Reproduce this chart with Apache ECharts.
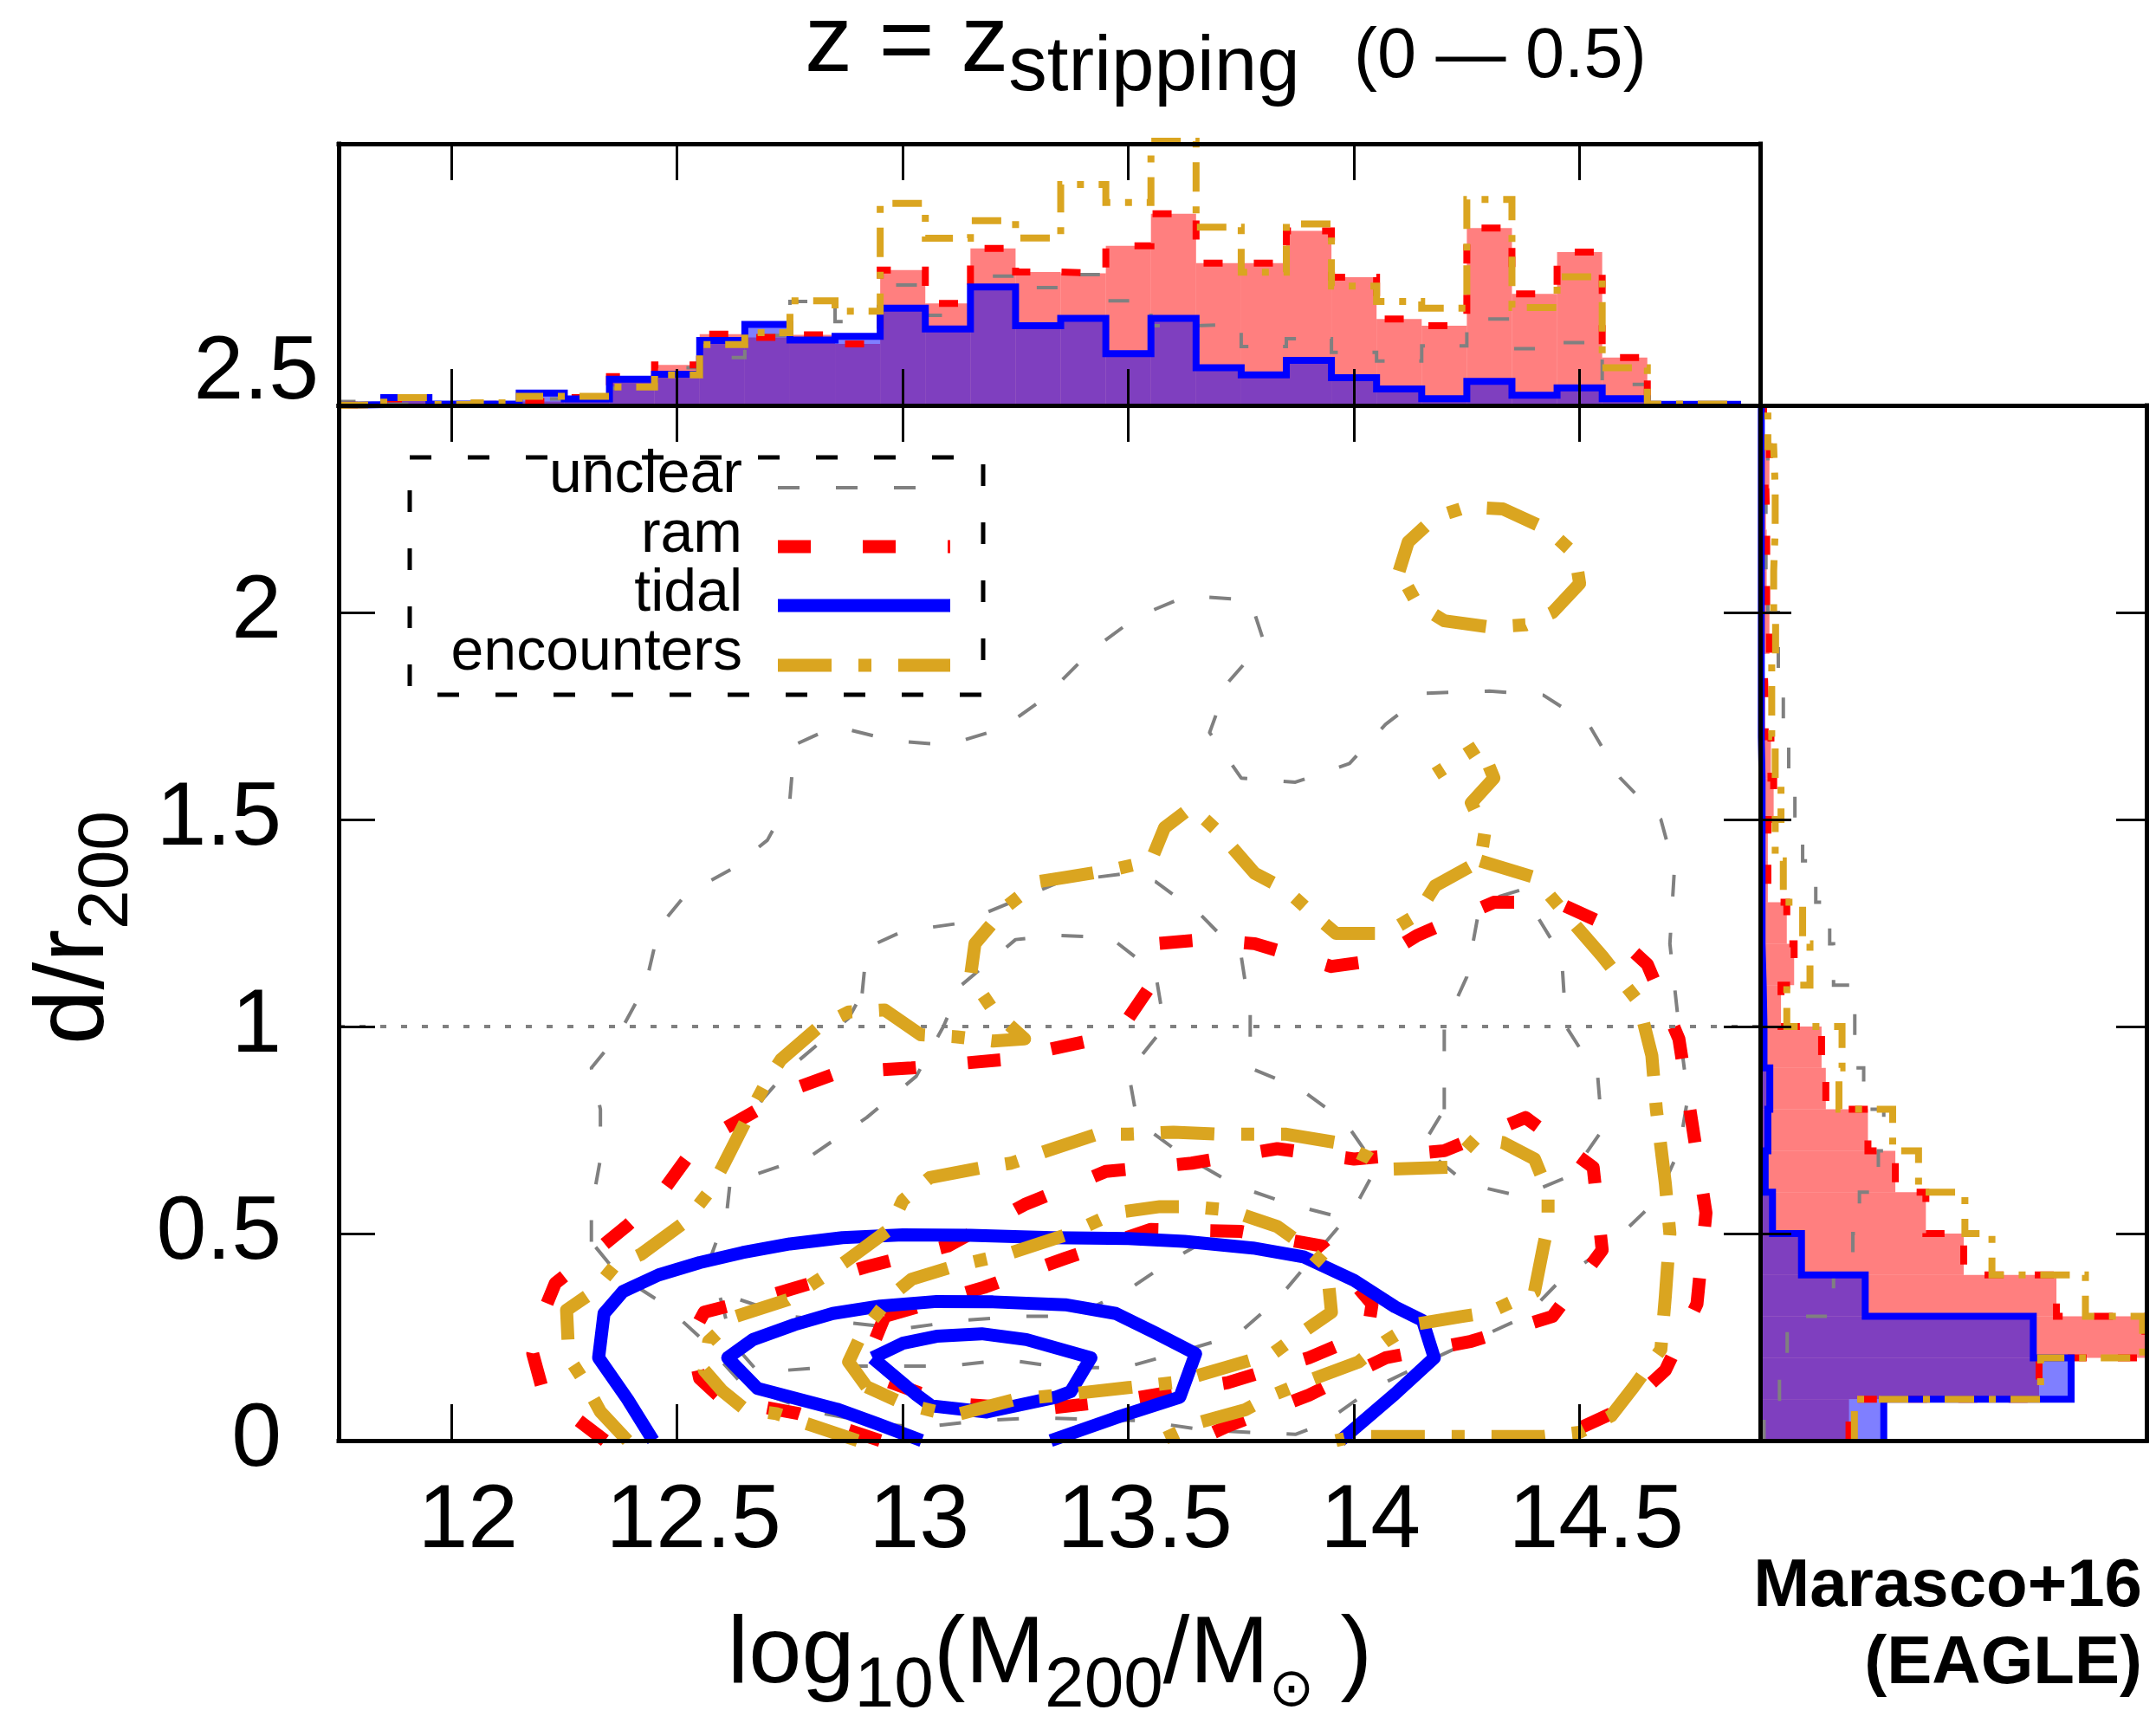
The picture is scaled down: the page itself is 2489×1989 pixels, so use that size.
<!DOCTYPE html>
<html>
<head>
<meta charset="utf-8">
<script src="https://cdn.jsdelivr.net/npm/echarts@6.0.0/dist/echarts.min.js"></script>
<style>
html,body{margin:0;padding:0;background:#ffffff;}
#chart{width:2489px;height:1989px;}
</style>
</head>
<body>
<div id="chart"></div>
<script>
// ================= DATA =================
const xTickValues = [12, 12.5, 13, 13.5, 14, 14.5];
const yLabelValues = [0, 0.5, 1, 1.5, 2, 2.5];
const yTickValues = [0.5, 1, 1.5, 2];
const binWidth = 0.1;

// top histogram (log10 M200 bins), heights in % of panel height
const topBinCenters = [11.8, 11.9, 12.0, 12.1, 12.2, 12.3, 12.4, 12.5, 12.6, 12.7, 12.8, 12.9, 13.0, 13.1, 13.2, 13.3, 13.4, 13.5, 13.6, 13.7, 13.8, 13.9, 14.0, 14.1, 14.2, 14.3, 14.4, 14.5, 14.6, 14.7, 14.8];
const topUnclear = [1.5, 0.5, 0.5, 1, 2.5, 3, 6.5, 14.4, 18.3, 26.7, 39.7, 32, 46, 34.4, 49.4, 45, 50, 40, 30.5, 31, 22.5, 25.5, 20.3, 17, 22.8, 33, 21.7, 24, 8, 1, 0.3];
const topRam     = [0.2, 2.5, 0.3, 0.5, 1.5, 3, 11, 15.5, 27.2, 26, 27, 23.5, 51.7, 39, 60, 51, 50.5, 61, 73.3, 54.4, 54.4, 66.7, 49, 33, 30.5, 67.8, 42.6, 58.6, 18.3, 0.3, 0.3];
const topTidal   = [0.3, 3, 0.5, 0.5, 4.7, 2.5, 10, 11.9, 24.8, 31, 25, 26.4, 37.2, 29.2, 45.3, 30.5, 33.3, 19.8, 33.3, 14.4, 11.7, 17.2, 10.6, 6.3, 2.6, 9.2, 3.9, 6.7, 2.6, 0.4, 0.4];
const topEnc     = [0.3, 3, 0.3, 1, 3.5, 3.5, 7, 11.7, 23.3, 27.8, 40, 36, 77.2, 63.9, 70.6, 64, 84.4, 77.6, 101, 68.1, 50.9, 69.4, 45.6, 39.7, 37.2, 78.7, 37.4, 49.2, 14.4, 0.5, 0.5];

// right histogram (d/r200 bins), lengths in % of panel width
const rightBinCenters = [0.05, 0.15, 0.25, 0.35, 0.45, 0.55, 0.65, 0.75, 0.85, 0.95, 1.05, 1.15, 1.25, 1.35, 1.45, 1.55, 1.65, 1.75, 1.85, 1.95, 2.05, 2.15, 2.25, 2.35, 2.45];
const rightUnclear = [1, 5, 7, 19, 24, 25.7, 30.6, 32, 26.8, 24.5, 24.5, 19, 18, 14.4, 11, 9, 7.4, 6, 4.7, 4.7, 2, 1.5, 1.5, 2, 1.3];
const rightRam     = [23, 72.2, 99.6, 76.7, 52.7, 42.9, 35, 27.9, 17, 15.9, 5.4, 8.8, 6.9, 2, 2, 3.5, 2.8, 1.3, 0.9, 2.4, 1.7, 1.7, 1.5, 2.4, 0.9];
const rightTidal   = [32, 80.5, 70.7, 27.2, 10.7, 3.2, 1.3, 2, 2.5, 1, 0.8, 0.5, 0.5, 0.5, 0.5, 0.5, 0.3, 0.3, 0.3, 0.3, 0.3, 0.3, 0.3, 0.3, 0.3];
const rightEnc     = [24.4, 72.6, 99, 84.2, 60, 53, 41, 34.3, 20.4, 21.2, 6.9, 12.9, 11, 6, 3.9, 5.4, 3.9, 3, 3, 4, 3.5, 3.9, 3.9, 3.5, 2];

// contours [log10 M200, d/r200]
const unclearC1 = [[12.31,0.48],[12.31,0.56],[12.33,0.68],[12.33,0.8],[12.31,0.9],[12.37,0.98],[12.43,1.1],[12.46,1.24],[12.52,1.32],[12.62,1.38],[12.7,1.45],[12.75,1.55],[12.76,1.68],[12.85,1.725],[12.98,1.69],[13.1,1.68],[13.22,1.72],[13.31,1.79],[13.42,1.91],[13.52,1.99],[13.63,2.04],[13.77,2.03],[13.8,1.93],[13.72,1.83],[13.68,1.71],[13.75,1.6],[13.87,1.59],[13.99,1.635],[14.07,1.73],[14.16,1.805],[14.3,1.81],[14.42,1.8],[14.52,1.73],[14.59,1.6],[14.68,1.5],[14.71,1.38],[14.7,1.2],[14.72,1.0],[14.74,0.83],[14.72,0.7],[14.67,0.58],[14.57,0.475],[14.46,0.39],[14.38,0.3],[14.2,0.21],[14.04,0.125],[13.93,0.04],[13.87,0.015],[13.67,0.025],[13.53,0.048],[13.3,0.055],[13.17,0.048],[13.04,0.032],[12.95,0.04],[12.8,0.07],[12.65,0.13],[12.55,0.25],[12.47,0.33],[12.37,0.4],[12.31,0.48]];
const unclearC2 = [[12.91,1.08],[12.92,1.19],[13.0,1.23],[13.13,1.25],[13.24,1.3],[13.35,1.35],[13.5,1.37],[13.56,1.35],[13.66,1.27],[13.75,1.17],[13.77,1.03],[13.77,0.9],[13.88,0.85],[13.98,0.77],[14.05,0.66],[14.0,0.56],[13.93,0.47],[13.83,0.34],[13.74,0.255],[13.57,0.2],[13.49,0.176],[13.36,0.176],[13.23,0.195],[13.1,0.18],[12.87,0.18],[12.68,0.165],[12.62,0.24],[12.6,0.33],[12.57,0.43],[12.61,0.55],[12.63,0.75],[12.75,0.9],[12.88,1.02],[12.91,1.08]];
const unclearC3 = [[14.2,0.8],[14.2,1.0],[14.25,1.12],[14.28,1.3],[14.37,1.33],[14.46,1.17],[14.47,1.0],[14.54,0.88],[14.55,0.75],[14.48,0.64],[14.37,0.59],[14.25,0.62],[14.15,0.71],[14.2,0.8]];
const unclearC4 = [[12.68,0.645],[12.8,0.69],[12.92,0.78],[13.03,0.88],[13.09,1.0],[13.13,1.1],[13.25,1.21],[13.35,1.22],[13.46,1.215],[13.56,1.13],[13.58,1.0],[13.5,0.89],[13.52,0.77],[13.62,0.69],[13.74,0.615],[13.86,0.57],[13.95,0.545]];
const unclearC5 = [[12.64,0.34],[12.75,0.3],[12.88,0.285],[13.0,0.27],[13.13,0.29],[13.26,0.3],[13.38,0.3],[13.5,0.365],[13.61,0.445],[13.7,0.5]];
const ramC1 = [[12.34,0],[12.28,0.05],[12.2,0.13],[12.18,0.21],[12.2,0.3],[12.23,0.38],[12.3,0.44],[12.39,0.52],[12.46,0.59],[12.52,0.68],[12.6,0.75],[12.68,0.8],[12.76,0.85],[12.86,0.89],[13.02,0.9],[13.22,0.92],[13.41,0.965],[13.5,1.02],[13.55,1.1],[13.56,1.2],[13.67,1.21],[13.78,1.2],[13.95,1.145],[14.05,1.16],[14.14,1.22],[14.31,1.3],[14.45,1.3],[14.55,1.25],[14.65,1.15],[14.72,0.97],[14.75,0.76],[14.78,0.55],[14.76,0.33],[14.69,0.17],[14.6,0.08],[14.5,0.03],[14.45,0]];
const ramC2 = [[12.95,0],[12.77,0.065],[12.6,0.1],[12.55,0.15],[12.53,0.25],[12.56,0.31],[12.72,0.355],[12.92,0.42],[13.1,0.47],[13.27,0.57],[13.45,0.65],[13.64,0.67],[13.83,0.705],[14.0,0.68],[14.2,0.7],[14.38,0.78],[14.53,0.66],[14.55,0.46],[14.44,0.3],[14.26,0.24],[14.07,0.2],[13.9,0.11],[13.72,0.035],[13.65,0]];
const ramC3 = [[12.96,0.3],[13.18,0.37],[13.36,0.44],[13.55,0.51],[13.75,0.505],[13.93,0.47],[14.04,0.33],[14.03,0.26],[13.9,0.2],[13.72,0.14],[13.5,0.1],[13.3,0.075],[13.1,0.09],[12.95,0.15],[12.93,0.22],[12.96,0.3]];
const tidalC1 = [[12.447,0],[12.39,0.1],[12.326,0.2],[12.338,0.307],[12.38,0.36],[12.459,0.4],[12.55,0.43],[12.645,0.454],[12.75,0.475],[12.866,0.49],[13.0,0.497],[13.15,0.496],[13.33,0.49],[13.5,0.488],[13.624,0.481],[13.776,0.465],[13.888,0.444],[14.0,0.387],[14.091,0.323],[14.152,0.29],[14.178,0.2],[14.091,0.113],[13.97,0]];
const tidalC2 = [[13.042,0],[12.945,0.04],[12.854,0.076],[12.678,0.126],[12.612,0.2],[12.668,0.244],[12.76,0.28],[12.845,0.307],[12.95,0.325],[13.075,0.336],[13.2,0.335],[13.36,0.328],[13.472,0.307],[13.56,0.26],[13.649,0.21],[13.614,0.105],[13.472,0.055],[13.328,0]];
const tidalC3 = [[12.933,0.2],[13.0,0.235],[13.075,0.252],[13.175,0.258],[13.274,0.244],[13.417,0.2],[13.372,0.118],[13.34,0.105],[13.186,0.069],[13.063,0.084],[13.03,0.111],[12.933,0.2]];
const encC1a = [[12.39,0],[12.33,0.07],[12.29,0.15],[12.26,0.2],[12.255,0.315],[12.315,0.36],[12.36,0.42],[12.42,0.45],[12.52,0.53],[12.57,0.6],[12.6,0.66],[12.656,0.78],[12.7,0.87],[12.73,0.92],[12.815,1.0],[12.88,1.035],[12.96,1.04],[13.04,0.98],[13.12,0.975],[13.2,0.965],[13.27,0.97],[13.2,1.04],[13.15,1.12],[13.16,1.2],[13.23,1.29],[13.3,1.35],[13.36,1.36],[13.47,1.38],[13.55,1.4],[13.58,1.48],[13.64,1.53],[13.7,1.47],[13.78,1.37],[13.85,1.33],[13.9,1.28],[13.96,1.225],[14.07,1.225],[14.14,1.27],[14.18,1.34],[14.28,1.4],[14.29,1.47],[14.26,1.54],[14.31,1.6],[14.28,1.68],[14.18,1.61]];
const encC1b = [[14.28,1.4],[14.4,1.36],[14.47,1.27],[14.55,1.17],[14.63,1.06],[14.66,0.93],[14.67,0.8],[14.69,0.62],[14.7,0.5],[14.69,0.35],[14.68,0.22],[14.62,0.13],[14.57,0.06],[14.5,0.02],[14.42,0.01],[14.0,0.01],[13.96,0]];
const encC2 = [[12.9,0],[12.79,0.04],[12.72,0.065],[12.65,0.076],[12.6,0.12],[12.56,0.17],[12.57,0.24],[12.63,0.3],[12.745,0.34],[12.83,0.4],[12.87,0.43],[12.97,0.51],[13.0,0.58],[13.06,0.635],[13.18,0.66],[13.24,0.67],[13.32,0.7],[13.43,0.74],[13.5,0.74],[13.6,0.745],[13.7,0.74],[13.78,0.74],[13.85,0.74],[13.96,0.72],[14.03,0.685],[14.07,0.655],[14.21,0.66],[14.27,0.73],[14.33,0.72],[14.4,0.68],[14.43,0.6],[14.43,0.52],[14.42,0.47],[14.4,0.36],[14.3,0.31],[14.24,0.3],[14.13,0.28],[14.07,0.24],[14.01,0.19],[13.9,0.145],[13.82,0.11],[13.76,0.075],[13.66,0.045],[13.57,0]];
const encC3 = [[12.92,0.13],[12.88,0.19],[12.91,0.26],[12.975,0.35],[13.02,0.39],[13.11,0.42],[13.23,0.45],[13.37,0.5],[13.47,0.55],[13.57,0.565],[13.64,0.565],[13.72,0.557],[13.83,0.517],[13.89,0.47],[13.94,0.42],[13.95,0.31],[13.87,0.25],[13.82,0.21],[13.71,0.175],[13.6,0.14],[13.5,0.128],[13.35,0.11],[13.25,0.1],[13.11,0.06],[13.0,0.09],[12.92,0.13]];
const encC4 = [[14.1,2.1],[14.12,2.17],[14.18,2.23],[14.25,2.255],[14.33,2.25],[14.43,2.2],[14.49,2.14],[14.5,2.07],[14.44,2.0],[14.38,1.97],[14.3,1.965],[14.2,1.98],[14.14,2.02],[14.1,2.1]];
const refLineY = 1;

// ================= STYLE / LAYOUT =================
const FONT = 'Liberation Sans';
const COL = {unclear:'#808080', ram:'#ff0000', tidal:'#0000ff', enc:'#daa520'};
const contourStyle = {
  unclear: {color: COL.unclear, width: 4, type: [25, 42]},
  ram:     {color: COL.ram, width: 15, type: [38, 60]},
  tidal:   {color: COL.tidal, width: 15, type: 'solid'},
  enc:     {color: COL.enc, width: 15, type: [62, 31, 15, 31]}
};
const histStyle = {
  unclear: {color: COL.unclear, width: 4, type: [24, 40]},
  ram:     {color: COL.ram, width: 8, type: [22, 36]},
  tidal:   {color: COL.tidal, width: 8, type: 'solid'},
  enc:     {color: COL.enc, width: 8, type: [34, 17, 8, 17]}
};
const L = 391, R = 2032, MT = 468, MB = 1663, TT = 166, RR = 2478;

const chart = echarts.init(document.getElementById('chart'), null, {renderer: 'canvas', width: 2489, height: 1989});

const axisLine = {show: true, onZero: false, lineStyle: {color: '#000', width: 5, cap: 'square'}};
function ticks(vals, len) { return {show: true, inside: true, length: len, customValues: vals, lineStyle: {color: '#000', width: 3}}; }
const noTicks = {show: false};
const noLabel = {show: false};
const noSplit = {show: false};

function xAx(grid, pos, min, max, tick, label) {
  return {gridIndex: grid, type: 'value', position: pos, min: min, max: max, axisLine: axisLine,
    axisTick: tick, axisLabel: label || noLabel, splitLine: noSplit, z: 10};
}
function yAx(grid, pos, min, max, tick, label) {
  return {gridIndex: grid, type: 'value', position: pos, min: min, max: max, axisLine: axisLine,
    axisTick: tick, axisLabel: label || noLabel, splitLine: noSplit, z: 10};
}

// step outlines built from bins
function topStep(centers, vals) {
  const h = binWidth / 2, pts = [[centers[0] - h, 0]];
  vals.forEach((v, i) => { pts.push([centers[i] - h, v], [centers[i] + h, v]); });
  pts.push([centers[centers.length - 1] + h, 0]);
  return pts;
}
function rightStep(centers, vals) {
  const h = binWidth / 2, pts = [[vals[0], 0]];
  vals.forEach((v, i) => { pts.push([v, centers[i] - h], [v, centers[i] + h]); });
  return pts;
}
function fillSeries(orient, centers, vals, color) {
  const h = binWidth / 2;
  const isTop = orient === 'top';
  return {
    type: 'custom', silent: true, clip: true, z: 2,
    xAxisIndex: isTop ? 0 : 4, yAxisIndex: isTop ? 0 : 4,
    encode: isTop ? {x: [0, 1], y: 2} : {y: [0, 1], x: 2},
    data: centers.map((c, i) => [c - h, c + h, vals[i]]),
    renderItem: function (params, api) {
      const s = api.value(0), e = api.value(1), v = api.value(2);
      let p0, p1;
      if (isTop) { p0 = api.coord([s, 0]); p1 = api.coord([e, v]); }
      else { p0 = api.coord([0, s]); p1 = api.coord([v, e]); }
      return {type: 'rect', shape: {x: Math.min(p0[0], p1[0]), y: Math.min(p0[1], p1[1]),
        width: Math.abs(p1[0] - p0[0]), height: Math.abs(p1[1] - p0[1])},
        style: {fill: color}};
    }
  };
}
function outline(orient, centers, vals, st, z) {
  const isTop = orient === 'top';
  return {type: 'line', silent: true, symbol: 'none', clip: !isTop, z: z,
    xAxisIndex: isTop ? 0 : 4, yAxisIndex: isTop ? 0 : 4,
    data: isTop ? topStep(centers, vals) : rightStep(centers, vals),
    lineStyle: {color: st.color, width: st.width, type: st.type, cap: 'butt', join: 'miter'}};
}
function contour(name, pts, st, z) {
  return {name: name, type: 'line', silent: true, symbol: 'none', clip: true, z: z,
    xAxisIndex: 2, yAxisIndex: 2, data: pts,
    lineStyle: {color: st.color, width: st.width, type: st.type, cap: 'butt', join: 'round'}};
}

const series = [
  fillSeries('top', topBinCenters, topRam, 'rgba(255,0,0,0.5)'),
  fillSeries('top', topBinCenters, topTidal, 'rgba(0,0,255,0.5)'),
  outline('top', topBinCenters, topUnclear, histStyle.unclear, 3),
  outline('top', topBinCenters, topRam, histStyle.ram, 4),
  outline('top', topBinCenters, topTidal, histStyle.tidal, 5),
  outline('top', topBinCenters, topEnc, histStyle.enc, 6),
  fillSeries('right', rightBinCenters, rightRam, 'rgba(255,0,0,0.5)'),
  fillSeries('right', rightBinCenters, rightTidal, 'rgba(0,0,255,0.5)'),
  outline('right', rightBinCenters, rightUnclear, histStyle.unclear, 3),
  outline('right', rightBinCenters, rightRam, histStyle.ram, 4),
  outline('right', rightBinCenters, rightTidal, histStyle.tidal, 5),
  outline('right', rightBinCenters, rightEnc, histStyle.enc, 6)
];
const s0 = contour('unclear', unclearC1, contourStyle.unclear, 3);
s0.markLine = {silent: true, symbol: 'none', label: {show: false},
  lineStyle: {color: '#808080', width: 4, type: [7, 17]}, data: [{yAxis: refLineY}]};
series.push(s0,
  contour('unclear', unclearC2, contourStyle.unclear, 3),
  contour('unclear', unclearC3, contourStyle.unclear, 3),
  contour('unclear', unclearC4, contourStyle.unclear, 3),
  contour('unclear', unclearC5, contourStyle.unclear, 3),
  contour('ram', ramC1, contourStyle.ram, 4),
  contour('ram', ramC2, contourStyle.ram, 4),
  contour('ram', ramC3, contourStyle.ram, 4),
  contour('tidal', tidalC1, contourStyle.tidal, 5),
  contour('tidal', tidalC2, contourStyle.tidal, 5),
  contour('tidal', tidalC3, contourStyle.tidal, 5),
  contour('encounters', encC1a, contourStyle.enc, 6),
  contour('encounters', encC1b, contourStyle.enc, 6),
  contour('encounters', encC2, contourStyle.enc, 6),
  contour('encounters', encC3, contourStyle.enc, 6),
  contour('encounters', encC4, contourStyle.enc, 6)
);

// ---------- text helpers ----------
const mctx = document.createElement('canvas').getContext('2d');
function tw(t, size, weight, fam) { mctx.font = (weight || 'normal') + ' ' + size + 'px "' + (fam || FONT) + '"'; return mctx.measureText(t).width; }
const MID = 0.3465; // baseline offset of 'middle'
function runWidth(pieces) { return pieces.reduce((a, p) => a + tw(p.t, p.s, p.w, p.f), 0); }
function textRun(pieces, x0, base) {
  const out = []; let x = x0;
  pieces.forEach(p => {
    out.push({type: 'text', silent: true, x: x, y: base + (p.dy || 0) - MID * p.s, z: 20,
      style: {text: p.t, fontSize: p.s, fontFamily: p.f || FONT, fontWeight: p.w || 'normal', fill: '#000', align: 'left', verticalAlign: 'middle'}});
    x += tw(p.t, p.s, p.w, p.f);
  });
  return out;
}

const graphics = [];
// title
textRun([{t: 'z = z', s: 110}, {t: 'stripping', s: 89, dy: 20}], 929, 90).forEach(g => graphics.push(g));
textRun([{t: '(0 \u2014 0.5)', s: 81}], 1563, 95).forEach(g => graphics.push(g));
// x axis title
const xPieces = [{t: 'log', s: 110}, {t: '10', s: 82, dy: 26}, {t: '(M', s: 110}, {t: '200', s: 82, dy: 26},
  {t: '/M', s: 110}, {t: '\u2299', s: 62, dy: 24, f: 'DejaVu Sans'}, {t: ' )', s: 110}];
const xW = runWidth(xPieces);
textRun(xPieces, 1212 - xW / 2, 1950).forEach(g => graphics.push(g));
// y axis title (rotated)
const yPieces = [{t: 'd/r', s: 114}, {t: '200', s: 82, dy: 26}];
const yW = runWidth(yPieces);
graphics.push({type: 'group', x: 127, y: 1071, rotation: Math.PI / 2, silent: true,
  children: textRun(yPieces, -yW / 2, 0)});
// Marasco label
graphics.push({type: 'text', silent: true, x: 2473, y: 1860 - MID * 78, z: 20,
  style: {text: 'Marasco+16', fontSize: 78, fontWeight: 'bold', fontFamily: FONT, fill: '#000', align: 'right', verticalAlign: 'middle'}});
graphics.push({type: 'text', silent: true, x: 2473, y: 1949 - MID * 78, z: 20,
  style: {text: '(EAGLE)', fontSize: 78, fontWeight: 'bold', fontFamily: FONT, fill: '#000', align: 'right', verticalAlign: 'middle'}});
// legend
graphics.push({type: 'rect', silent: true, z: 20, shape: {x: 473, y: 528, width: 662, height: 274},
  style: {fill: 'none', stroke: '#000', lineWidth: 5, lineDash: [25, 42]}});
const legendRows = [
  {name: 'unclear', st: contourStyle.unclear, base: 573, ly: 563},
  {name: 'ram', st: contourStyle.ram, base: 642, ly: 631},
  {name: 'tidal', st: contourStyle.tidal, base: 710, ly: 699},
  {name: 'encounters', st: contourStyle.enc, base: 778, ly: 768}
];
legendRows.forEach(r => {
  graphics.push({type: 'text', silent: true, z: 20, x: 857, y: r.base - MID * 68,
    style: {text: r.name, fontSize: 68, fontFamily: FONT, fill: '#000', align: 'right', verticalAlign: 'middle'}});
  graphics.push({type: 'line', silent: true, z: 20, shape: {x1: 898, y1: r.ly, x2: 1097, y2: r.ly},
    style: {stroke: r.st.color, lineWidth: r.st.width, lineDash: Array.isArray(r.st.type) ? r.st.type : null, lineCap: 'butt'}});
});

const option = {
  animation: false,
  backgroundColor: '#ffffff',
  grid: [
    {left: L, top: TT, width: R - L, height: MT - TT, containLabel: false},
    {left: L, top: MT, width: R - L, height: MB - MT, containLabel: false},
    {left: R, top: MT, width: RR - R, height: MB - MT, containLabel: false}
  ],
  xAxis: [
    xAx(0, 'bottom', 11.75, 14.9, ticks(xTickValues, 42)),
    xAx(0, 'top', 11.75, 14.9, ticks(xTickValues, 42)),
    xAx(1, 'bottom', 11.75, 14.9, ticks(xTickValues, 42),
      {show: true, customValues: xTickValues, fontSize: 104, fontFamily: FONT, color: '#000', margin: 42,
       padding: [0, 0, 0, 38], formatter: v => String(v)}),
    xAx(1, 'top', 11.75, 14.9, ticks(xTickValues, 42)),
    xAx(2, 'bottom', 0, 100, noTicks),
    xAx(2, 'top', 0, 100, noTicks)
  ],
  yAxis: [
    yAx(0, 'left', 0, 100, noTicks),
    yAx(0, 'right', 0, 100, noTicks),
    yAx(1, 'left', 0, 2.5, ticks(yTickValues, 42),
      {show: true, customValues: yLabelValues, fontSize: 104, fontFamily: FONT, color: '#000', margin: 23,
       formatter: v => (v === 2.5 ? '{up|2.5}' : '{n|' + v + '}'),
       rich: {up: {fontSize: 104, fontFamily: FONT, color: '#000', padding: [0, 0, 74, 0]},
              n: {fontSize: 104, fontFamily: FONT, color: '#000', padding: [0, 43, 0, 0]}}}),
    yAx(1, 'right', 0, 2.5, ticks(yTickValues, 42)),
    yAx(2, 'left', 0, 2.5, ticks(yTickValues, 36)),
    yAx(2, 'right', 0, 2.5, ticks(yTickValues, 35))
  ],
  series: series,
  graphic: graphics
};
chart.setOption(option);
</script>
</body>
</html>
